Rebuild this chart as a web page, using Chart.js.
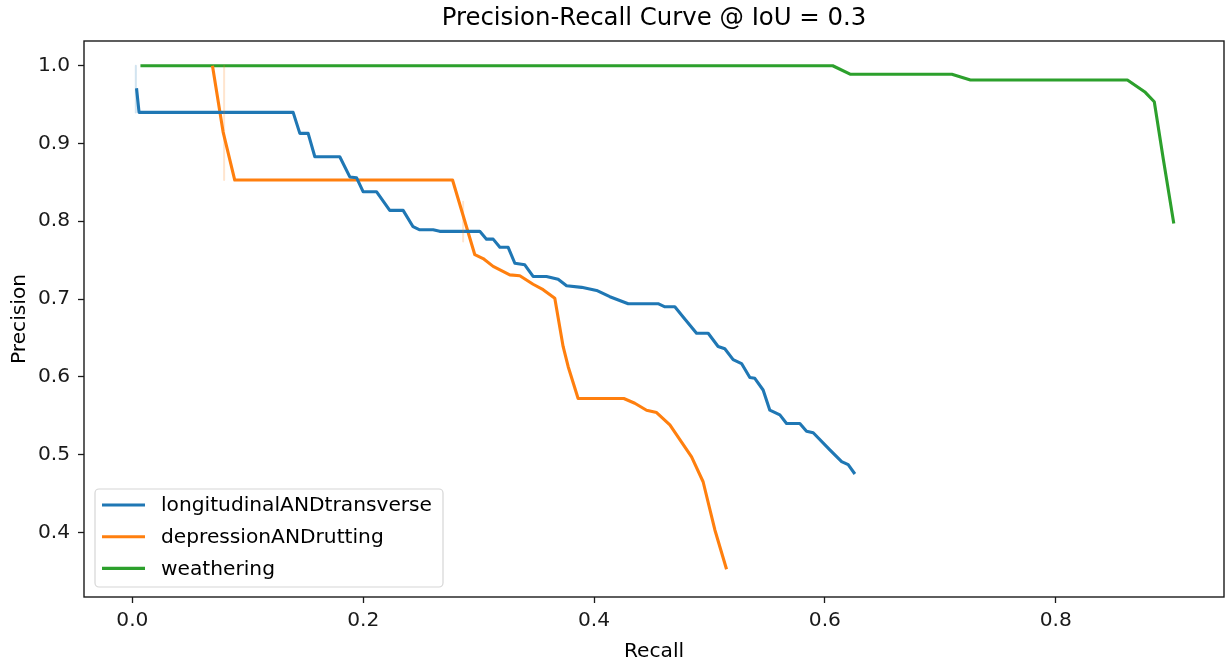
<!DOCTYPE html>
<html>
<head>
<meta charset="utf-8">
<script src="https://cdn.jsdelivr.net/npm/chart.js@4.4.1/dist/chart.umd.min.js"></script>
<style>
  html, body { margin: 0; padding: 0; background: #ffffff; }
  #c { display: block; }
</style>
</head>
<body>
<canvas id="c" width="1231" height="665"></canvas>
<script>
// ---------------- data ----------------
const chartTitle = "Precision-Recall Curve @ IoU = 0.3";
const xAxisTitle = "Recall";
const yAxisTitle = "Precision";
const seriesNames = ["longitudinalANDtransverse", "depressionANDrutting", "weathering"];

const xTickValues = [0.0, 0.2, 0.4, 0.6, 0.8];
const yTickValues = [0.4, 0.5, 0.6, 0.7, 0.8, 0.9, 1.0];

const ltRecall = [0.0036, 0.0058, 0.1393, 0.1451, 0.1523, 0.1581, 0.1797, 0.1884, 0.1942, 0.1999,
  0.2115, 0.2230, 0.2346, 0.2432, 0.2490, 0.2606, 0.2663, 0.3010, 0.3068, 0.3126,
  0.3184, 0.3256, 0.3314, 0.3400, 0.3472, 0.3588, 0.3689, 0.3762, 0.3892, 0.4022,
  0.4137, 0.4296, 0.4555, 0.4614, 0.4700, 0.4772, 0.4888, 0.4989, 0.5075, 0.5133,
  0.5205, 0.5278, 0.5350, 0.5393, 0.5465, 0.5523, 0.5610, 0.5668, 0.5783, 0.5841,
  0.5899, 0.6043, 0.6145, 0.6202, 0.6260];
const ltPrecision = [0.971, 0.940, 0.940, 0.913, 0.913, 0.883, 0.883, 0.857, 0.856, 0.838,
  0.838, 0.814, 0.814, 0.793, 0.789, 0.789, 0.787, 0.787, 0.777, 0.777,
  0.7665, 0.7665, 0.746, 0.744, 0.729, 0.729, 0.7253, 0.717, 0.715, 0.711,
  0.703, 0.694, 0.694, 0.690, 0.690, 0.677, 0.656, 0.656, 0.639, 0.636,
  0.622, 0.617, 0.599, 0.598, 0.583, 0.557, 0.551, 0.540, 0.540, 0.530,
  0.528, 0.506, 0.491, 0.487, 0.475];

const drRecall = [0.0694, 0.0786, 0.0887, 0.2774, 0.2967, 0.3039, 0.3126, 0.3270, 0.3357, 0.3472,
  0.3559, 0.3660, 0.3732, 0.3776, 0.3862, 0.4258, 0.4353, 0.4455, 0.4542, 0.4657,
  0.4845, 0.4945, 0.5047, 0.5148];
const drPrecision = [1.000, 0.915, 0.853, 0.853, 0.757, 0.752, 0.742, 0.731, 0.730, 0.719,
  0.712, 0.701, 0.639, 0.613, 0.572, 0.572, 0.566, 0.557, 0.554, 0.538,
  0.497, 0.465, 0.403, 0.3525];

const wRecall = [0.0070, 0.6068, 0.6223, 0.7100, 0.7261, 0.8621, 0.8776, 0.8854, 0.8933, 0.9023];
const wPrecision = [1.000, 1.000, 0.989, 0.989, 0.9816, 0.9816, 0.9658, 0.9537, 0.879, 0.797];

// faint uncertainty bands (vertical slivers visible in the picture)
const ltBandRecall = [0.0030, 0.0030];
const ltBandPrecision = [1.000, 0.940];
const drBand1Recall = [0.0795, 0.0795];
const drBand1Precision = [1.000, 0.853];
const drBand2Recall = [0.2866, 0.2866];
const drBand2Precision = [0.825, 0.774];

const seriesColors = ["#1f77b4", "#ff7f0e", "#2ca02c"];
const bandColors = ["rgba(31,119,180,0.2)", "rgba(255,127,14,0.2)"];

// ---------------- build ----------------
function pts(xs, ys) { return xs.map((x, i) => ({ x: x, y: ys[i] })); }

const FONT = '"DejaVu Sans", "Liberation Sans", sans-serif';
const TICK_PX = 20.2;
const TITLE_PX = 24.4;

const lineStyle = { pointRadius: 0, pointHoverRadius: 0, tension: 0, fill: false,
  borderJoinStyle: 'round', borderCapStyle: 'butt' };

const bands = [
  { label: '', band: true, data: pts(ltBandRecall, ltBandPrecision), borderColor: bandColors[0], borderWidth: 2 },
  { label: '', band: true, data: pts(drBand1Recall, drBand1Precision), borderColor: bandColors[1], borderWidth: 2 },
  { label: '', band: true, data: pts(drBand2Recall, drBand2Precision), borderColor: bandColors[1], borderWidth: 2 }
].map(d => Object.assign(d, lineStyle));

const mains = [
  { label: seriesNames[0], data: pts(ltRecall, ltPrecision), borderColor: seriesColors[0] },
  { label: seriesNames[1], data: pts(drRecall, drPrecision), borderColor: seriesColors[1] },
  { label: seriesNames[2], data: pts(wRecall, wPrecision), borderColor: seriesColors[2] }
].map(d => Object.assign(d, lineStyle, { borderWidth: 3.1 }));

const datasets = bands.concat(mains);

const decor = {
  id: 'decor',
  afterDraw(chart) {
    const ctx = chart.ctx, a = chart.chartArea;
    ctx.save();
    // frame (all four spines)
    ctx.strokeStyle = '#1a1a1a';
    ctx.lineWidth = 1.4;
    ctx.strokeRect(a.left, a.top, a.right - a.left, a.bottom - a.top);

    // title
    ctx.fillStyle = '#000';
    ctx.textAlign = 'center';
    ctx.textBaseline = 'middle';
    ctx.font = TITLE_PX + 'px ' + FONT;
    ctx.fillText(chartTitle, (a.left + a.right) / 2, a.top - 22);

    // axis titles
    ctx.font = TICK_PX + 'px ' + FONT;
    ctx.fillText(xAxisTitle, (a.left + a.right) / 2, a.bottom + 55);
    ctx.save();
    ctx.translate(20, (a.top + a.bottom) / 2);
    ctx.rotate(-Math.PI / 2);
    ctx.fillText(yAxisTitle, 0, 0);
    ctx.restore();

    // legend
    const lx = a.left + 11, ly = a.bottom - 108, lw = 348, lh = 98;
    ctx.beginPath();
    if (ctx.roundRect) ctx.roundRect(lx, ly, lw, lh, 4); else ctx.rect(lx, ly, lw, lh);
    ctx.fillStyle = 'rgba(255,255,255,0.85)';
    ctx.fill();
    ctx.strokeStyle = '#d6d6d6';
    ctx.lineWidth = 1.2;
    ctx.stroke();
    ctx.textAlign = 'left';
    ctx.textBaseline = 'middle';
    chart.data.datasets.filter(ds => !ds.band).forEach((ds, i) => {
      const cy = ly + 16 + i * 31.7;
      ctx.strokeStyle = ds.borderColor;
      ctx.lineWidth = 3.1;
      ctx.beginPath();
      ctx.moveTo(lx + 7, cy);
      ctx.lineTo(lx + 50, cy);
      ctx.stroke();
      ctx.fillStyle = '#000';
      ctx.fillText(ds.label, lx + 66, cy + 1);
    });
    ctx.restore();
  }
};

new Chart(document.getElementById('c'), {
  type: 'line',
  data: { datasets: datasets },
  options: {
    responsive: false,
    devicePixelRatio: 1,
    animation: false,
    events: [],
    layout: { padding: { top: 41, right: 7, left: 0, bottom: 0 } },
    plugins: { legend: { display: false }, title: { display: false }, tooltip: { enabled: false } },
    scales: {
      x: {
        type: 'linear',
        min: -0.0419, max: 0.9458,
        afterBuildTicks: s => { s.ticks = xTickValues.map(v => ({ value: v })); },
        afterFit: s => { s.height = 68; },
        grid: { drawOnChartArea: false, drawTicks: true, tickLength: 6, tickWidth: 1.3, tickColor: '#1a1a1a' },
        border: { display: false },
        ticks: {
          padding: 6, color: '#1a1a1a', maxRotation: 0, autoSkip: false,
          font: { family: FONT, size: TICK_PX },
          callback: v => Number(v).toFixed(1)
        }
      },
      y: {
        type: 'linear',
        min: 0.3168, max: 1.0318,
        afterBuildTicks: s => { s.ticks = yTickValues.map(v => ({ value: v })); },
        afterFit: s => { s.width = 84; },
        grid: { drawOnChartArea: false, drawTicks: true, tickLength: 6, tickWidth: 1.3, tickColor: '#1a1a1a' },
        border: { display: false },
        ticks: {
          padding: 8, color: '#1a1a1a', autoSkip: false,
          font: { family: FONT, size: TICK_PX },
          callback: v => Number(v).toFixed(1)
        }
      }
    }
  },
  plugins: [decor]
});
</script>
</body>
</html>
